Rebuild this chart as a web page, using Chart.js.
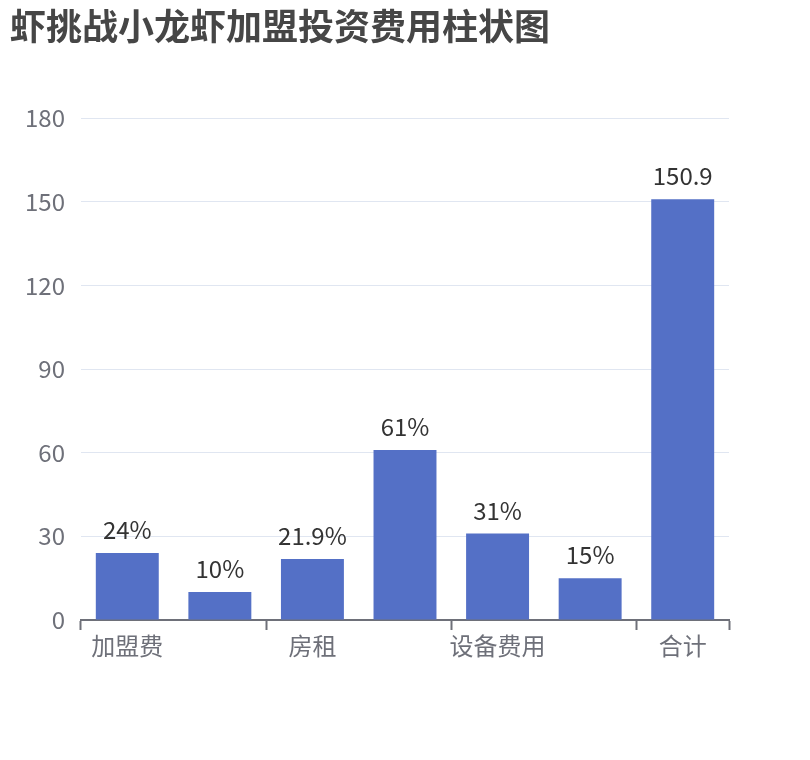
<!DOCTYPE html>
<html>
<head>
<meta charset="utf-8">
<script src="https://cdn.jsdelivr.net/npm/chart.js@4.4.1/dist/chart.umd.min.js"></script>
<style>
  html, body { margin: 0; padding: 0; background: #ffffff; }
  #wrap { width: 810px; height: 760px; }
</style>
</head>
<body>
<div id="wrap"><canvas id="feeChart" width="810" height="760"></canvas></div>
<script>
const categories = ['加盟费', '', '房租', '', '设备费用', '', '合计'];
const values = [24, 10, 21.9, 61, 31, 15, 150.9];
const valueLabels = ['24%', '10%', '21.9%', '61%', '31%', '15%', '150.9'];
const yTicks = [0, 30, 60, 90, 120, 150, 180];

const FONT = '"Noto Sans CJK SC", "Noto Sans", sans-serif';

// labels above each bar, like echarts label position 'top'
const topLabels = {
  id: 'topLabels',
  afterDatasetsDraw(chart) {
    const c = chart.ctx;
    const meta = chart.getDatasetMeta(0);
    c.save();
    c.font = '24px ' + FONT;
    c.fillStyle = '#333333';
    c.textAlign = 'center';
    c.textBaseline = 'bottom';
    meta.data.forEach((bar, i) => {
      c.fillText(valueLabels[i], bar.x, bar.y - 11);
    });
    c.restore();
  }
};

const ctx = document.getElementById('feeChart').getContext('2d');

new Chart(ctx, {
  type: 'bar',
  data: {
    labels: categories,
    datasets: [{
      data: values,
      backgroundColor: '#5470C6',
      borderWidth: 0,
      categoryPercentage: 1,
      barPercentage: 0.68
    }]
  },
  options: {
    responsive: false,
    animation: false,
    layout: { padding: { left: 10, right: 81, top: 0, bottom: 0 } },
    plugins: {
      legend: { display: false },
      tooltip: { enabled: false },
      title: {
        display: true,
        text: '虾挑战小龙虾加盟投资费用柱状图',
        align: 'start',
        color: '#464646',
        font: { family: FONT, size: 36, weight: 'bold' },
        padding: { top: 5, bottom: 70 }
      }
    },
    scales: {
      x: {
        offset: true,
        afterFit(scale) { scale.height = 140; },
        grid: {
          offset: true,
          drawOnChartArea: false,
          drawTicks: true,
          tickLength: 10,
          tickWidth: 2,
          // ticks only between every other category, plus the closing one at the right end
          tickColor: (c) => (c.index === undefined || c.index % 2 === 0) ? '#6E7079' : 'rgba(0,0,0,0)'
        },
        border: { display: true, color: '#6E7079', width: 2 },
        ticks: {
          autoSkip: false,
          maxRotation: 0,
          color: '#6E7079',
          padding: 1,
          font: { family: FONT, size: 24 }
        }
      },
      y: {
        min: 0,
        max: 180,
        afterFit(scale) { scale.width = 71; },
        afterBuildTicks(scale) { scale.ticks = yTicks.map(v => ({ value: v })); },
        grid: { color: '#E0E6F1', lineWidth: 1, drawTicks: false },
        border: { display: false },
        ticks: {
          color: '#6E7079',
          padding: 16,
          font: { family: FONT, size: 24 }
        }
      }
    }
  },
  plugins: [topLabels]
});
</script>
</body>
</html>
